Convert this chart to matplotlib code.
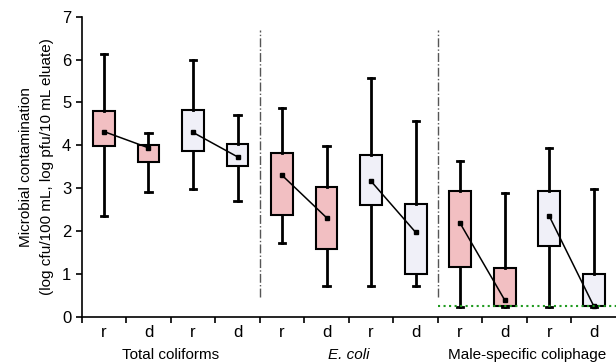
import matplotlib.pyplot as plt
from matplotlib.ticker import FixedLocator

plt.rcParams['font.family'] = ['Liberation Sans', 'DejaVu Sans']

# данные: r / d для трёх показателей
labels = ['r', 'd', 'r', 'd', 'r', 'd', 'r', 'd', 'r', 'd', 'r', 'd']
whis_hi = [6.14, 4.28, 6.00, 4.71, 4.86, 3.99, 5.56, 4.56, 3.63, 2.88, 3.94, 2.99]
q3 = [4.81, 4.00, 4.82, 4.04, 3.83, 3.02, 3.77, 2.63, 2.94, 1.13, 2.94, 0.99]
med = [4.32, 3.94, 4.30, 3.73, 3.30, 2.31, 3.16, 1.97, 2.18, 0.39, 2.35, 0.25]
q1 = [3.98, 3.62, 3.86, 3.52, 2.37, 1.57, 2.61, 1.00, 1.15, 0.25, 1.66, 0.25]
whis_lo = [2.35, 2.92, 2.99, 2.71, 1.71, 0.72, 0.72, 0.72, 0.23, 0.23, 0.23, 0.23]
groups = ['Total coliforms', 'E. coli', 'Male-specific coliphage']
detect_limit = 0.25

pink = '#f2bfc2'
pale = '#f0f0f8'
fills = [pink, pink, pale, pale] * 3

fig, ax = plt.subplots(figsize=(6.16, 3.62), dpi=100)
fig.subplots_adjust(left=0.1326, right=1.0, bottom=0.125, top=0.954)

pos = list(range(1, 13))
stats = [dict(whislo=whis_lo[i], q1=q1[i], med=med[i], q3=q3[i],
              whishi=whis_hi[i], fliers=[]) for i in range(12)]
bp = ax.bxp(stats, positions=pos, widths=0.49, patch_artist=True,
            showfliers=False, manage_ticks=False,
            boxprops=dict(linewidth=1.5, edgecolor='black'),
            whiskerprops=dict(linewidth=2, color='black'),
            capprops=dict(linewidth=2, color='black'),
            capwidths=0.14,
            medianprops=dict(linewidth=0))
for patch, c in zip(bp['boxes'], fills):
    patch.set_facecolor(c)

# линии между медианами r и d
for i in range(0, 12, 2):
    ax.plot(pos[i:i + 2], med[i:i + 2], color='black', lw=1.1,
            marker='s', ms=3.2, zorder=5)

# разделители
for xs in (4.5, 8.5):
    ax.plot([xs, xs], [0.46, 6.7], color='#555555', lw=1, ls='-.')
ax.plot([8.5, 12.5], [detect_limit, detect_limit], color='#1f9a1f', lw=1.5,
        ls=':', zorder=6)

ax.set_xlim(0.5, 12.5)
ax.set_ylim(0, 7)
ax.spines['top'].set_visible(False)
ax.spines['right'].set_visible(False)
ax.spines['left'].set_linewidth(1.2)
ax.spines['bottom'].set_linewidth(1.2)

ax.set_xticks(pos)
ax.set_xticklabels(labels, fontsize=12)
ax.tick_params(axis='x', which='major', length=0, pad=6)
ax.xaxis.set_minor_locator(FixedLocator([p + 0.5 for p in range(0, 12)]))
ax.tick_params(axis='x', which='minor', length=4, width=1.2)
ax.set_yticks(range(0, 8))
ax.tick_params(axis='y', labelsize=12, length=4, width=1.2)

ax.set_ylabel('Microbial contamination\n(log cfu/100 mL, log pfu/10 mL eluate)',
              fontsize=11, linespacing=1.6, labelpad=6)

for k, g in enumerate(groups):
    ax.text(2.5 + 4 * k, -0.9, g, ha='center', va='center', fontsize=11,
            style='italic' if g == 'E. coli' else 'normal',
            transform=ax.transData, clip_on=False)

fig.savefig('out.png', dpi=100)
